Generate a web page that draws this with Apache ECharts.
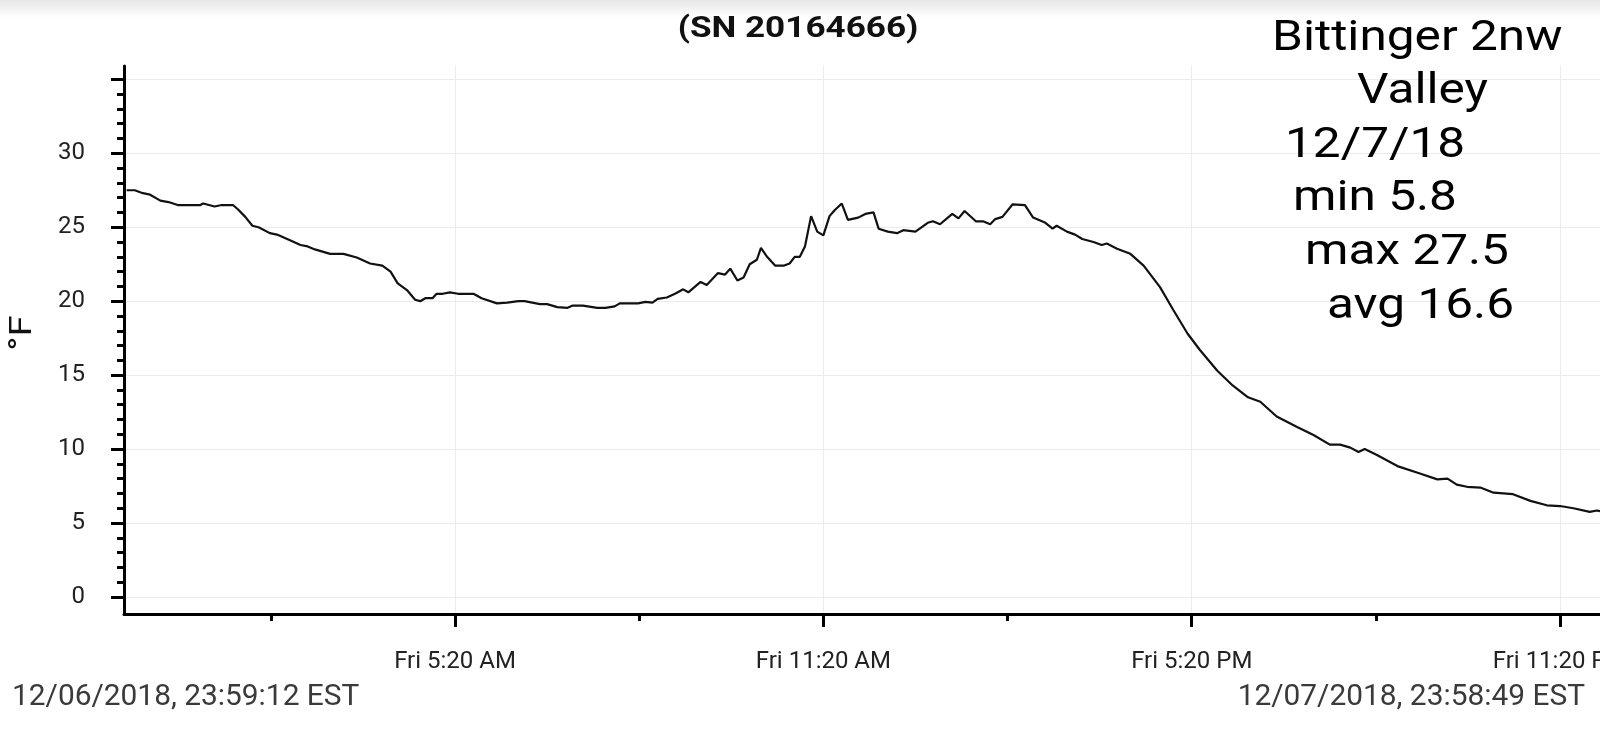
<!DOCTYPE html>
<html>
<head>
<meta charset="utf-8">
<title>Bittinger 2nw Valley</title>
<script src="https://cdn.jsdelivr.net/npm/echarts@6/dist/echarts.min.js"></script>
<style>
  html, body { margin: 0; padding: 0; background: #fff; }
  #chart { width: 1600px; height: 729px; }
</style>
</head>
<body>
<div id="chart"></div>
<script>
// minutes after midnight 12/07/2018 (EST)
const times = [
  -1, 7, 15, 22, 32, 40, 49, 71, 74, 85, 92, 103, 108, 115, 122, 128, 139, 146, 156, 169,
  176, 183, 198, 211, 224, 237, 249, 257, 264, 273, 281, 286, 291, 298, 302, 308, 315, 323, 338, 346,
  361, 371, 382, 388, 403, 410, 420, 430, 435, 445, 459, 467, 476, 481, 499, 506, 513, 518, 527, 535,
  543, 548, 560, 566, 577, 584, 589, 596, 602, 608, 615, 619, 625, 633, 641, 647, 652, 657, 662, 668,
  674, 680, 686, 691, 698, 704, 714, 721, 729, 734, 743, 752, 758, 770, 782, 787, 794, 806, 812, 818,
  829, 836, 843, 848, 855, 865, 877, 885, 897, 904, 908, 918, 926, 933, 944, 952, 957, 967, 980, 993,
  1009, 1022, 1036, 1048, 1065, 1080, 1095, 1107, 1123, 1143, 1159, 1175, 1185, 1195, 1203, 1209, 1221, 1241, 1263, 1280,
  1290, 1299, 1309, 1322, 1335, 1354, 1371, 1387, 1400, 1413, 1429, 1436, 1439
]
// temperature, °F
const temps = [
  27.5, 27.5, 27.3, 27.2, 26.8, 26.7, 26.5, 26.5, 26.6, 26.4, 26.5, 26.5, 26.2, 25.7, 25.1, 25.0, 24.6, 24.5, 24.2, 23.8,
  23.7, 23.5, 23.2, 23.2, 22.95, 22.55, 22.4, 22.0, 21.2, 20.75, 20.1, 20.0, 20.2, 20.2, 20.5, 20.5, 20.6, 20.5, 20.5, 20.2,
  19.85, 19.9, 20.0, 20.0, 19.8, 19.8, 19.6, 19.55, 19.7, 19.7, 19.55, 19.55, 19.65, 19.85, 19.85, 19.95, 19.9, 20.15, 20.25, 20.5,
  20.8, 20.6, 21.3, 21.1, 21.9, 21.8, 22.2, 21.4, 21.6, 22.5, 22.8, 23.6, 23.0, 22.4, 22.4, 22.55, 23.0, 23.0, 23.7, 25.75,
  24.7, 24.45, 25.75, 26.15, 26.6, 25.5, 25.65, 25.9, 26.0, 24.9, 24.7, 24.6, 24.8, 24.7, 25.3, 25.4, 25.2, 25.9, 25.6, 26.1,
  25.4, 25.4, 25.2, 25.55, 25.7, 26.55, 26.5, 25.65, 25.3, 24.9, 25.1, 24.7, 24.5, 24.2, 24.0, 23.8, 23.9, 23.55, 23.2, 22.4,
  20.95, 19.4, 17.8, 16.7, 15.3, 14.3, 13.5, 13.2, 12.2, 11.5, 10.95, 10.3, 10.3, 10.1, 9.8, 10.0, 9.6, 8.85, 8.35, 7.95,
  8.0, 7.6, 7.45, 7.4, 7.05, 6.95, 6.5, 6.2, 6.15, 6.0, 5.75, 5.85, 5.8
]

const xMajorTicks = [320, 680, 1040, 1400]
const xTickLabels = ['Fri 5:20 AM', 'Fri 11:20 AM', 'Fri 5:20 PM', 'Fri 11:20 PM']
const xMinorTicks = [140, 500, 860, 1220]
const yMajorTicks = [0, 5, 10, 15, 20, 25, 30, 35]
const yTickLabels = [0, 5, 10, 15, 20, 25, 30]

const title = '(SN 20164666)'
const yName = '°F'
const noteLines = ['Bittinger 2nw', 'Valley', '12/7/18', 'min 5.8', 'max 27.5', 'avg 16.6']
const startText = '12/06/2018, 23:59:12 EST'
const endText = '12/07/2018, 23:58:49 EST'

const noteLeft = [1272, 1357, 1285, 1293, 1305, 1327]
const noteTop = 39
const noteStep = 53.6

const yMinorTicks = []
for (let v = 1; v <= 35; v++) {
  yMinorTicks.push(v)
}

const chart = echarts.init(document.getElementById('chart'))

const graphics = [{
  type: 'rect',
  shape: { x: 0, y: 0, width: 1600, height: 18 },
  style: {
    fill: new echarts.graphic.LinearGradient(0, 0, 0, 1, [
      { offset: 0, color: '#e6e6e6' },
      { offset: 1, color: '#ffffff' }
    ])
  },
  z: 0
}, {
  type: 'text',
  x: 798,
  y: 30,
  scaleX: 1.21,
  style: {
    text: title,
    font: 'bold 29px Roboto',
    fill: '#111',
    textAlign: 'center',
    textVerticalAlign: 'middle'
  },
  z: 100
}, {
  // y axis name, rotated
  type: 'text',
  x: 23,
  y: 333,
  rotation: Math.PI / 2,
  scaleX: 1.2,
  style: {
    text: yName,
    font: '32px Roboto',
    fill: '#111',
    textAlign: 'center',
    textVerticalAlign: 'middle'
  },
  z: 100
}, {
  type: 'text',
  x: 12,
  y: 698,
  scaleX: 1.03,
  style: {
    text: startText,
    font: '29px Roboto',
    fill: '#3a3a3a',
    textAlign: 'left',
    textVerticalAlign: 'middle'
  },
  z: 100
}, {
  type: 'text',
  x: 1585,
  y: 698,
  scaleX: 1.03,
  style: {
    text: endText,
    font: '29px Roboto',
    fill: '#3a3a3a',
    textAlign: 'right',
    textVerticalAlign: 'middle'
  },
  z: 100
}]

noteLines.forEach((line, i) => {
  graphics.push({
    type: 'text',
    x: noteLeft[i],
    y: noteTop + i * noteStep,
    scaleX: 1.18,
    style: {
      text: line,
      font: '42px Roboto',
      fill: '#000',
      textAlign: 'left',
      textVerticalAlign: 'middle'
    },
    z: 100
  })
})

chart.setOption({
  animation: false,
  backgroundColor: '#fff',
  grid: {
    left: 124,
    right: 0,
    top: 66,
    bottom: 115,
    containLabel: false,
    outerBoundsMode: 'none'
  },
  xAxis: [{
    type: 'value',
    min: -3.5,
    max: 1439,
    axisLine: { onZero: false, lineStyle: { color: '#000', width: 3 } },
    axisTick: {
      customValues: xMajorTicks,
      length: 13,
      lineStyle: { color: '#000', width: 3 }
    },
    axisLabel: {
      customValues: xMajorTicks,
      margin: 36,
      fontSize: 24,
      fontFamily: 'Roboto',
      color: '#222',
      formatter: function(value) {
        const i = xMajorTicks.indexOf(value)
        return i >= 0 ? xTickLabels[i] : ''
      }
    },
    splitLine: { show: true, lineStyle: { color: '#ececec', width: 1 } }
  }, {
    type: 'value',
    min: -3.5,
    max: 1439,
    position: 'bottom',
    axisLine: { show: false, onZero: false },
    axisTick: {
      customValues: xMinorTicks,
      length: 7,
      lineStyle: { color: '#000', width: 3 }
    },
    axisLabel: { show: false },
    splitLine: { show: false }
  }],
  yAxis: [{
    type: 'value',
    min: -1.15,
    max: 35.9,
    axisLine: { show: true, onZero: false, lineStyle: { color: '#000', width: 3 } },
    axisTick: {
      show: true,
      customValues: yMajorTicks,
      length: 13,
      lineStyle: { color: '#000', width: 3 }
    },
    axisLabel: {
      customValues: yTickLabels,
      margin: 39,
      fontSize: 24,
      fontFamily: 'Roboto',
      color: '#222'
    },
    splitLine: { show: true, lineStyle: { color: '#ececec', width: 1 } }
  }, {
    type: 'value',
    min: -1.15,
    max: 35.9,
    position: 'left',
    axisLine: { show: false, onZero: false },
    axisTick: {
      show: true,
      customValues: yMinorTicks,
      length: 7,
      lineStyle: { color: '#000', width: 3 }
    },
    axisLabel: { show: false },
    splitLine: { show: false }
  }],
  graphic: graphics,
  series: [{
    type: 'line',
    data: times.map((t, i) => [t, temps[i]]),
    showSymbol: false,
    lineStyle: { color: '#111', width: 2.2 }
  }]
})
</script>
</body>
</html>
